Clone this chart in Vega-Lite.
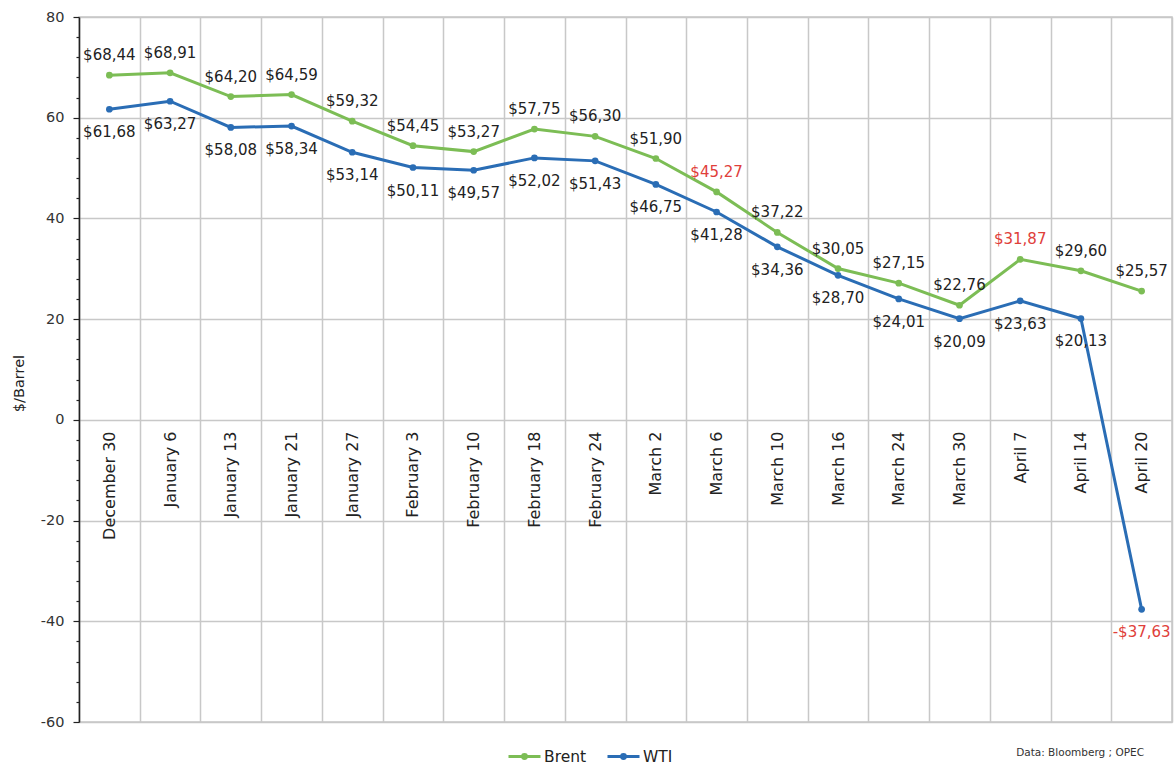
{
  "$schema": "https://vega.github.io/schema/vega-lite/v6.json",
  "autosize": "none",
  "width": 1093,
  "height": 705,
  "padding": {"left": 79, "top": 17, "right": 2, "bottom": 48},
  "background": "white",
  "config": {
    "font": "DejaVu Sans",
    "view": {"stroke": "#c8c8c8", "strokeWidth": 1.5},
    "locale": {
      "number": {"decimal": ",", "thousands": ".", "grouping": [3], "currency": ["$", ""], "minus": "-"}
    }
  },
  "title": {
    "text": "Data: Bloomberg ; OPEC",
    "orient": "bottom",
    "anchor": "end",
    "fontSize": 10.5,
    "fontWeight": "normal",
    "color": "#333333",
    "offset": -17,
    "dx": -28
  },
  "data": {
    "values": [
      {"date": "December 30", "series": "Brent", "price": 68.44},
      {"date": "January 6", "series": "Brent", "price": 68.91},
      {"date": "January 13", "series": "Brent", "price": 64.20},
      {"date": "January 21", "series": "Brent", "price": 64.59},
      {"date": "January 27", "series": "Brent", "price": 59.32},
      {"date": "February 3", "series": "Brent", "price": 54.45},
      {"date": "February 10", "series": "Brent", "price": 53.27},
      {"date": "February 18", "series": "Brent", "price": 57.75},
      {"date": "February 24", "series": "Brent", "price": 56.30},
      {"date": "March 2", "series": "Brent", "price": 51.90},
      {"date": "March 6", "series": "Brent", "price": 45.27},
      {"date": "March 10", "series": "Brent", "price": 37.22},
      {"date": "March 16", "series": "Brent", "price": 30.05},
      {"date": "March 24", "series": "Brent", "price": 27.15},
      {"date": "March 30", "series": "Brent", "price": 22.76},
      {"date": "April 7", "series": "Brent", "price": 31.87},
      {"date": "April 14", "series": "Brent", "price": 29.60},
      {"date": "April 20", "series": "Brent", "price": 25.57},
      {"date": "December 30", "series": "WTI", "price": 61.68},
      {"date": "January 6", "series": "WTI", "price": 63.27},
      {"date": "January 13", "series": "WTI", "price": 58.08},
      {"date": "January 21", "series": "WTI", "price": 58.34},
      {"date": "January 27", "series": "WTI", "price": 53.14},
      {"date": "February 3", "series": "WTI", "price": 50.11},
      {"date": "February 10", "series": "WTI", "price": 49.57},
      {"date": "February 18", "series": "WTI", "price": 52.02},
      {"date": "February 24", "series": "WTI", "price": 51.43},
      {"date": "March 2", "series": "WTI", "price": 46.75},
      {"date": "March 6", "series": "WTI", "price": 41.28},
      {"date": "March 10", "series": "WTI", "price": 34.36},
      {"date": "March 16", "series": "WTI", "price": 28.70},
      {"date": "March 24", "series": "WTI", "price": 24.01},
      {"date": "March 30", "series": "WTI", "price": 20.09},
      {"date": "April 7", "series": "WTI", "price": 23.63},
      {"date": "April 14", "series": "WTI", "price": 20.13},
      {"date": "April 20", "series": "WTI", "price": -37.63}
    ]
  },
  "encoding": {
    "x": {
      "field": "date",
      "type": "nominal",
      "sort": null,
      "scale": {"type": "band", "paddingInner": 0, "paddingOuter": 0},
      "axis": {
        "title": null,
        "orient": "bottom",
        "offset": -302,
        "labelAngle": -90,
        "labelPadding": 11,
        "labelFontSize": 16,
        "labelColor": "#222222",
        "labelFont": "DejaVu Sans",
        "domain": false,
        "ticks": false,
        "grid": true,
        "tickBand": "extent",
        "gridColor": "#c8c8c8",
        "gridWidth": 1.5
      }
    },
    "y": {
      "field": "price",
      "type": "quantitative",
      "scale": {"domain": [-60, 80], "nice": false, "zero": false},
      "axis": {
        "title": "$/Barrel",
        "titleFontSize": 14.5,
        "titleFontWeight": "normal",
        "titleColor": "#222222",
        "titlePadding": 14,
        "titleY": 366,
        "values": [-60, -56, -52, -48, -44, -40, -36, -32, -28, -24, -20, -16, -12, -8, -4, 0, 4, 8, 12, 16, 20, 24, 28, 32, 36, 40, 44, 48, 52, 56, 60, 64, 68, 72, 76, 80],
        "labelExpr": "datum.value % 20 === 0 ? datum.label : ''",
        "labelOverlap": false,
        "labelFontSize": 14.5,
        "labelColor": "#333333",
        "labelPadding": 9,
        "domainColor": "#222222",
        "domainWidth": 1.5,
        "tickColor": "#222222",
        "tickWidth": 1.2,
        "tickSize": {"condition": {"test": "datum.value % 20 === 0", "value": 6}, "value": 3},
        "gridColor": "#c8c8c8",
        "gridWidth": 1.5,
        "gridOpacity": {"condition": {"test": "datum.value % 20 === 0", "value": 1}, "value": 0}
      }
    }
  },
  "layer": [
    {
      "mark": {"type": "line", "strokeWidth": 3, "point": {"size": 45, "filled": true}},
      "encoding": {
        "color": {
          "field": "series",
          "type": "nominal",
          "scale": {"domain": ["Brent", "WTI"], "range": ["#7cbd55", "#2a6db5"]},
          "legend": {
            "title": null,
            "orient": "none",
            "legendX": 428,
            "legendY": 722,
            "direction": "horizontal",
            "symbolType": "M-1,0H1M-0.12,0A0.12,0.12 0 1,1 0.12,0A0.12,0.12 0 1,1 -0.12,0",
            "symbolSize": 1024,
            "symbolStrokeWidth": 3,
            "labelFontSize": 15.5,
            "labelColor": "#222222",
            "labelOffset": 2,
            "columnPadding": 14
          }
        }
      }
    },
    {
      "transform": [{"filter": "datum.series === 'Brent'"}],
      "mark": {"type": "text", "dy": -20, "fontSize": 15, "font": "DejaVu Sans"},
      "encoding": {
        "text": {"field": "price", "type": "quantitative", "format": "$.2f"},
        "color": {
          "condition": {"test": "datum.date === 'March 6' || datum.date === 'April 7'", "value": "#e0403a"},
          "value": "#222222"
        }
      }
    },
    {
      "transform": [{"filter": "datum.series === 'WTI'"}],
      "mark": {"type": "text", "dy": 23, "fontSize": 15, "font": "DejaVu Sans"},
      "encoding": {
        "text": {"field": "price", "type": "quantitative", "format": "$.2f"},
        "color": {
          "condition": {"test": "datum.date === 'April 20'", "value": "#e0403a"},
          "value": "#222222"
        }
      }
    }
  ]
}
